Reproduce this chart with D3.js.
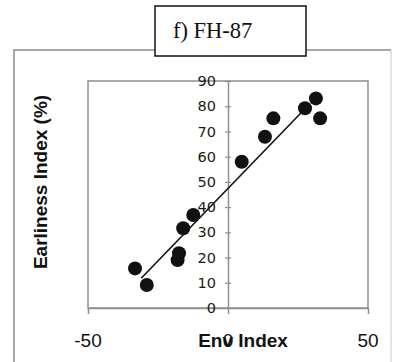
<!DOCTYPE html>
<html>
<head>
<meta charset="utf-8">
<script src="https://cdn.jsdelivr.net/npm/d3@7"></script>
<style>
  html, body { margin: 0; padding: 0; background: #fff; }
  svg { display: block; }
</style>
</head>
<body>
<svg id="chart" width="393" height="362"></svg>
<script>
// Environmental index vs earliness index for FH-87
const envIndex   = [-33.2, -29, -17.5, -18, -16, -12.4, 4.9, 13.2, 16.2, 27.5, 31.4, 32.9];
const earliness  = [15.7, 9.1, 21.7, 19, 31.6, 36.9, 58, 67.9, 75.2, 79.2, 83.1, 75.2];
// fitted regression line, end points
const trendX = [-31, 27.5];
const trendY = [11.8, 79];
const xTicks = [-50, 0, 50];
const yTicks = [0, 10, 20, 30, 40, 50, 60, 70, 80, 90];
const title = "f) FH-87";
const xTitle = "Env Index";
const yTitle = "Earliness Index (%)";

const svg = d3.select("#chart");
const plot = { left: 88, right: 368, top: 81, bottom: 308 };

const x = d3.scaleLinear().domain([-50, 50]).range([plot.left, plot.right]);
const y = d3.scaleLinear().domain([0, 90]).range([plot.bottom, plot.top]);

// outer panel frame
svg.append("path")
  .attr("d", `M14,362 L14,50 L391,50`)
  .attr("fill", "none").attr("stroke", "#8a8a8a").attr("stroke-width", 1.5);
svg.append("line")
  .attr("x1", 391).attr("y1", 50).attr("x2", 391).attr("y2", 362)
  .attr("stroke", "#d0d0d0").attr("stroke-width", 1.2);

// plot area frame
svg.append("rect")
  .attr("x", plot.left).attr("y", plot.top)
  .attr("width", plot.right - plot.left).attr("height", plot.bottom - plot.top)
  .attr("fill", "none").attr("stroke", "#8f8f8f").attr("stroke-width", 1.5);

// x axis at the bottom
const xAxis = svg.append("g")
  .attr("transform", `translate(0,${plot.bottom})`)
  .call(d3.axisBottom(x).tickValues(xTicks).tickSize(6).tickSizeOuter(0).tickFormat(""));
xAxis.select(".domain").attr("stroke", "#8f8f8f").attr("stroke-width", 1.5);
xAxis.selectAll(".tick line").attr("stroke", "#8f8f8f").attr("stroke-width", 1.5);

// x tick labels
svg.append("g").selectAll("text")
  .data(xTicks)
  .join("text")
  .attr("x", d => x(d))
  .attr("y", 347)
  .attr("text-anchor", "middle")
  .attr("font-family", "Liberation Sans, Arial, sans-serif")
  .attr("font-size", 19)
  .attr("fill", "#111")
  .text(d => d);

// y axis through x = 0, ticks crossing the line
const yAxis = svg.append("g")
  .attr("transform", `translate(${x(0)},0)`)
  .call(d3.axisLeft(y).tickValues(yTicks).tickSize(3).tickSizeOuter(0).tickPadding(9));
yAxis.select(".domain").attr("stroke", "#8f8f8f").attr("stroke-width", 1.5);
yAxis.selectAll(".tick line").attr("stroke", "#8f8f8f").attr("stroke-width", 1.2).attr("x2", 3).attr("x1", -3);
yAxis.selectAll(".tick text")
  .attr("font-family", "DejaVu Sans, Verdana, sans-serif")
  .attr("font-size", 14.5)
  .attr("fill", "#1a1a1a");

// regression line
svg.append("line")
  .attr("x1", x(trendX[0])).attr("y1", y(trendY[0]))
  .attr("x2", x(trendX[1])).attr("y2", y(trendY[1]))
  .attr("stroke", "#111").attr("stroke-width", 1.6);

// data points
svg.append("g").selectAll("circle")
  .data(envIndex.map((v, i) => [v, earliness[i]]))
  .join("circle")
  .attr("cx", d => x(d[0]))
  .attr("cy", d => y(d[1]))
  .attr("r", 7)
  .attr("fill", "#111");

// axis titles
svg.append("text")
  .attr("x", 243).attr("y", 347)
  .attr("text-anchor", "middle")
  .attr("font-family", "Liberation Sans, Arial, sans-serif")
  .attr("font-weight", "bold")
  .attr("font-size", 19)
  .attr("fill", "#111")
  .text(xTitle);

svg.append("text")
  .attr("transform", "translate(47,182) rotate(-90)")
  .attr("text-anchor", "middle")
  .attr("font-family", "Liberation Sans, Arial, sans-serif")
  .attr("font-weight", "bold")
  .attr("font-size", 19)
  .attr("fill", "#111")
  .text(yTitle);

// title box over the panel frame
svg.append("rect")
  .attr("x", 155).attr("y", 6).attr("width", 151).attr("height", 50)
  .attr("fill", "#fff").attr("stroke", "#111").attr("stroke-width", 1.5);
svg.append("text")
  .attr("x", 173).attr("y", 38)
  .attr("font-family", "Liberation Serif, Times New Roman, serif")
  .attr("font-size", 22.5)
  .attr("fill", "#111")
  .text(title);
</script>
</body>
</html>
